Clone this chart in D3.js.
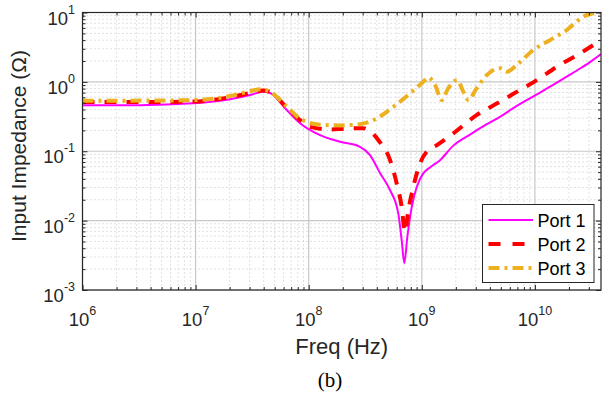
<!DOCTYPE html>
<html>
<head>
<meta charset="utf-8">
<script src="https://cdn.jsdelivr.net/npm/d3@7"></script>
<style>
  html, body { margin: 0; padding: 0; background: #fff; }
  svg { display: block; }
</style>
</head>
<body>
<svg id="chart" width="602" height="399"></svg>
<script>
/* Input impedance vs frequency, three ports, log-log */

const PORT_NAMES = ['Port 1', 'Port 2', 'Port 3'];
const COLORS     = ['#FF00FF', '#FF0000', '#EDB120'];

const FREQ_TICKS = [1e6, 1e7, 1e8, 1e9, 1e10];
const IMP_TICKS  = [1e-3, 1e-2, 1e-1, 1e0, 1e1];
const FREQ_EXP   = ['6', '7', '8', '9', '10'];
const IMP_EXP    = ['-3', '-2', '-1', '0', '1'];

const freq1 = [1.0e6, 3.22e6, 9.5e6, 2.01e7, 3.03e7, 3.94e7, 4.55e7, 6.43e7, 8.38e7,
  1.26e8, 1.89e8, 2.84e8, 3.48e8, 4.28e8, 5.24e8, 6.19e8, 6.64e8, 7.0e8, 7.45e8,
  8.15e8, 9.02e8, 1.03e9, 1.18e9, 1.45e9, 1.88e9, 2.67e9, 3.75e9, 4.91e9, 6.44e9,
  8.45e9, 1.11e10, 1.46e10, 1.91e10, 2.51e10, 3.07e10, 3.84e10];
const port1 = [0.462, 0.462, 0.49, 0.56, 0.645, 0.72, 0.69, 0.39, 0.254,
  0.171, 0.137, 0.116, 0.088, 0.0483, 0.0275, 0.0128, 0.00521, 0.00245, 0.00582,
  0.0158, 0.0306, 0.0479, 0.0584, 0.0744, 0.1185, 0.174, 0.246, 0.313, 0.419,
  0.546, 0.701, 0.914, 1.19, 1.56, 1.93, 2.52];

const freq2 = [1.0e6, 3.22e6, 9.5e6, 2.01e7, 3.03e7, 3.94e7, 4.55e7, 6.43e7, 8.38e7,
  1.03e8, 1.54e8, 2.09e8, 3.02e8, 3.48e8, 4.12e8, 5.24e8, 6.0e8, 6.64e8, 7.10e8,
  7.60e8, 8.41e8, 9.64e8, 1.10e9, 1.36e9, 1.90e9, 3.05e9, 4.91e9, 6.40e9, 1.04e10,
  1.56e10, 2.51e10, 3.84e10];
const port2 = [0.512, 0.512, 0.52, 0.60, 0.69, 0.75, 0.72, 0.42, 0.281,
  0.225, 0.206, 0.212, 0.215, 0.195, 0.145, 0.0745, 0.0343, 0.0158, 0.00687,
  0.0141, 0.0306, 0.0667, 0.098, 0.1225, 0.181, 0.332, 0.516, 0.667, 1.06,
  1.65, 2.58, 4.0];

const freq3 = [1.0e6, 3.22e6, 9.5e6, 2.01e7, 3.03e7, 3.72e7, 4.55e7, 6.43e7, 8.38e7,
  1.26e8, 1.89e8, 2.84e8, 3.99e8, 5.60e8, 7.87e8, 1.03e9, 1.14e9, 1.31e9, 1.50e9,
  1.71e9, 2.05e9, 2.33e9, 2.58e9, 3.05e9, 3.75e9, 4.29e9, 4.91e9, 5.64e9, 6.90e9,
  9.68e9, 1.36e10, 1.91e10, 2.68e10, 3.84e10];
const port3 = [0.533, 0.537, 0.546, 0.624, 0.736, 0.78, 0.72, 0.437, 0.295,
  0.242, 0.236, 0.246, 0.297, 0.437, 0.683, 1.0, 1.16, 0.90, 0.546,
  0.805, 1.06, 0.72, 0.546, 0.805, 1.25, 1.48, 1.57, 1.40, 1.75,
  2.88, 4.0, 5.59, 8.7, 10.2];

const FONT  = '"Liberation Sans", Arial, Helvetica, sans-serif';
const INK   = '#262626';

const margin = { top: 12.5, right: 1, bottom: 109, left: 82.5 };
const W = 602, H = 399;
const iW = W - margin.left - margin.right;
const iH = H - margin.top - margin.bottom;

const svg = d3.select('#chart');
const g = svg.append('g').attr('transform', `translate(${margin.left},${margin.top})`);

const x = d3.scaleLog().domain([1e6, 3.84e10]).range([0, iW]);
const y = d3.scaleLog().domain([1e-3, 1e1]).range([iH, 0]);

const xMinor = x.ticks().filter(v => !FREQ_TICKS.includes(v));
const yMinor = y.ticks().filter(v => !IMP_TICKS.some(t => Math.abs(t - v) / t < 1e-6));

/* ── Grid ── */
const grid = g.append('g');
grid.selectAll('.xmin').data(xMinor).join('line')
  .attr('x1', d => x(d)).attr('x2', d => x(d)).attr('y1', 0).attr('y2', iH)
  .attr('stroke', '#c4c4c4').attr('stroke-dasharray', '1,3');
grid.selectAll('.ymin').data(yMinor).join('line')
  .attr('y1', d => y(d)).attr('y2', d => y(d)).attr('x1', 0).attr('x2', iW)
  .attr('stroke', '#c4c4c4').attr('stroke-dasharray', '1,3');
grid.selectAll('.xmaj').data(FREQ_TICKS).join('line')
  .attr('x1', d => x(d)).attr('x2', d => x(d)).attr('y1', 0).attr('y2', iH)
  .attr('stroke', '#c8c8c8').attr('stroke-width', 1.2);
grid.selectAll('.ymaj').data(IMP_TICKS).join('line')
  .attr('y1', d => y(d)).attr('y2', d => y(d)).attr('x1', 0).attr('x2', iW)
  .attr('stroke', '#c8c8c8').attr('stroke-width', 1.2);

/* ── Curves ── */
svg.append('defs').append('clipPath').attr('id', 'clip')
  .append('rect').attr('width', iW).attr('height', iH);

const series = [
  { f: freq1, z: port1, width: 2,   dash: null },
  { f: freq2, z: port2, width: 4,   dash: '12,10' },
  { f: freq3, z: port3, width: 4,   dash: '11,5,3,5' },
];

const line = d3.line()
  .x(d => x(d[0]))
  .y(d => y(d[1]))
  .curve(d3.curveMonotoneX);

const curves = g.append('g').attr('clip-path', 'url(#clip)');
series.forEach((s, i) => {
  curves.append('path')
    .datum(s.f.map((f, k) => [f, s.z[k]]))
    .attr('d', line)
    .attr('fill', 'none')
    .attr('stroke', COLORS[i])
    .attr('stroke-width', s.width)
    .attr('stroke-dasharray', s.dash)
    .attr('stroke-linejoin', 'round');
});

/* ── Axes (ticks point inward, box on all sides) ── */
function styleAxis(ax) {
  ax.select('.domain').remove();
  ax.selectAll('.tick line').attr('stroke', INK);
  ax.selectAll('.tick text').remove();
}
const mkX = (axis, size, vals) => axis(x).tickValues(vals).tickSize(size).tickFormat('');
const mkY = (axis, size, vals) => axis(y).tickValues(vals).tickSize(size).tickFormat('');

g.append('g').attr('transform', `translate(0,${iH})`).call(mkX(d3.axisBottom, -5, FREQ_TICKS)).call(styleAxis);
g.append('g').attr('transform', `translate(0,${iH})`).call(mkX(d3.axisBottom, -3, xMinor)).call(styleAxis);
g.append('g').call(mkX(d3.axisTop, -5, FREQ_TICKS)).call(styleAxis);
g.append('g').call(mkX(d3.axisTop, -3, xMinor)).call(styleAxis);
g.append('g').call(mkY(d3.axisLeft, -5, IMP_TICKS)).call(styleAxis);
g.append('g').call(mkY(d3.axisLeft, -3, yMinor)).call(styleAxis);
g.append('g').attr('transform', `translate(${iW},0)`).call(mkY(d3.axisRight, -5, IMP_TICKS)).call(styleAxis);
g.append('g').attr('transform', `translate(${iW},0)`).call(mkY(d3.axisRight, -3, yMinor)).call(styleAxis);

g.append('rect')
  .attr('width', iW).attr('height', iH)
  .attr('fill', 'none').attr('stroke', INK).attr('stroke-width', 1.2);

/* ── Tick labels with superscript exponents ── */
FREQ_TICKS.forEach((t, i) => {
  const txt = g.append('text')
    .attr('x', x(t)).attr('y', iH + 36)
    .attr('text-anchor', 'middle')
    .attr('font-family', FONT).attr('font-size', 18.5).attr('fill', INK);
  txt.append('tspan').text('10');
  txt.append('tspan').attr('dy', -11).attr('font-size', 12.5).text(FREQ_EXP[i]);
});

IMP_TICKS.forEach((t, i) => {
  const txt = g.append('text')
    .attr('x', -7.5).attr('y', y(t) + 12)
    .attr('text-anchor', 'end')
    .attr('font-family', FONT).attr('font-size', 18.5).attr('fill', INK);
  txt.append('tspan').text('10');
  txt.append('tspan').attr('dy', -11).attr('font-size', 12.5).text(IMP_EXP[i]);
});

/* ── Axis titles ── */
svg.append('text')
  .attr('x', margin.left + iW / 2).attr('y', 354)
  .attr('text-anchor', 'middle')
  .attr('font-family', FONT).attr('font-size', 22).attr('fill', INK)
  .text('Freq (Hz)');

svg.append('text')
  .attr('transform', 'translate(26,146) rotate(-90)')
  .attr('text-anchor', 'middle')
  .attr('font-family', FONT).attr('font-size', 21).attr('fill', INK)
  .text('Input Impedance (Ω)');

svg.append('text')
  .attr('x', 330).attr('y', 387)
  .attr('text-anchor', 'middle')
  .attr('font-family', '"Liberation Serif", "Times New Roman", serif')
  .attr('font-size', 21).attr('fill', '#000')
  .text('(b)');

/* ── Legend ── */
const lg = svg.append('g').attr('transform', 'translate(482.5,204.5)');
lg.append('rect')
  .attr('width', 111.5).attr('height', 78)
  .attr('fill', '#fff').attr('stroke', INK).attr('stroke-width', 1);

PORT_NAMES.forEach((name, i) => {
  const yy = 15.5 + i * 24;
  lg.append('line')
    .attr('x1', 6).attr('x2', 50.5).attr('y1', yy).attr('y2', yy)
    .attr('stroke', COLORS[i])
    .attr('stroke-width', series[i].width)
    .attr('stroke-dasharray', i === 1 ? '12,12' : series[i].dash);
  lg.append('text')
    .attr('x', 55).attr('y', yy + 6.5)
    .attr('font-family', FONT).attr('font-size', 18).attr('fill', '#000')
    .text(name);
});
</script>
</body>
</html>
